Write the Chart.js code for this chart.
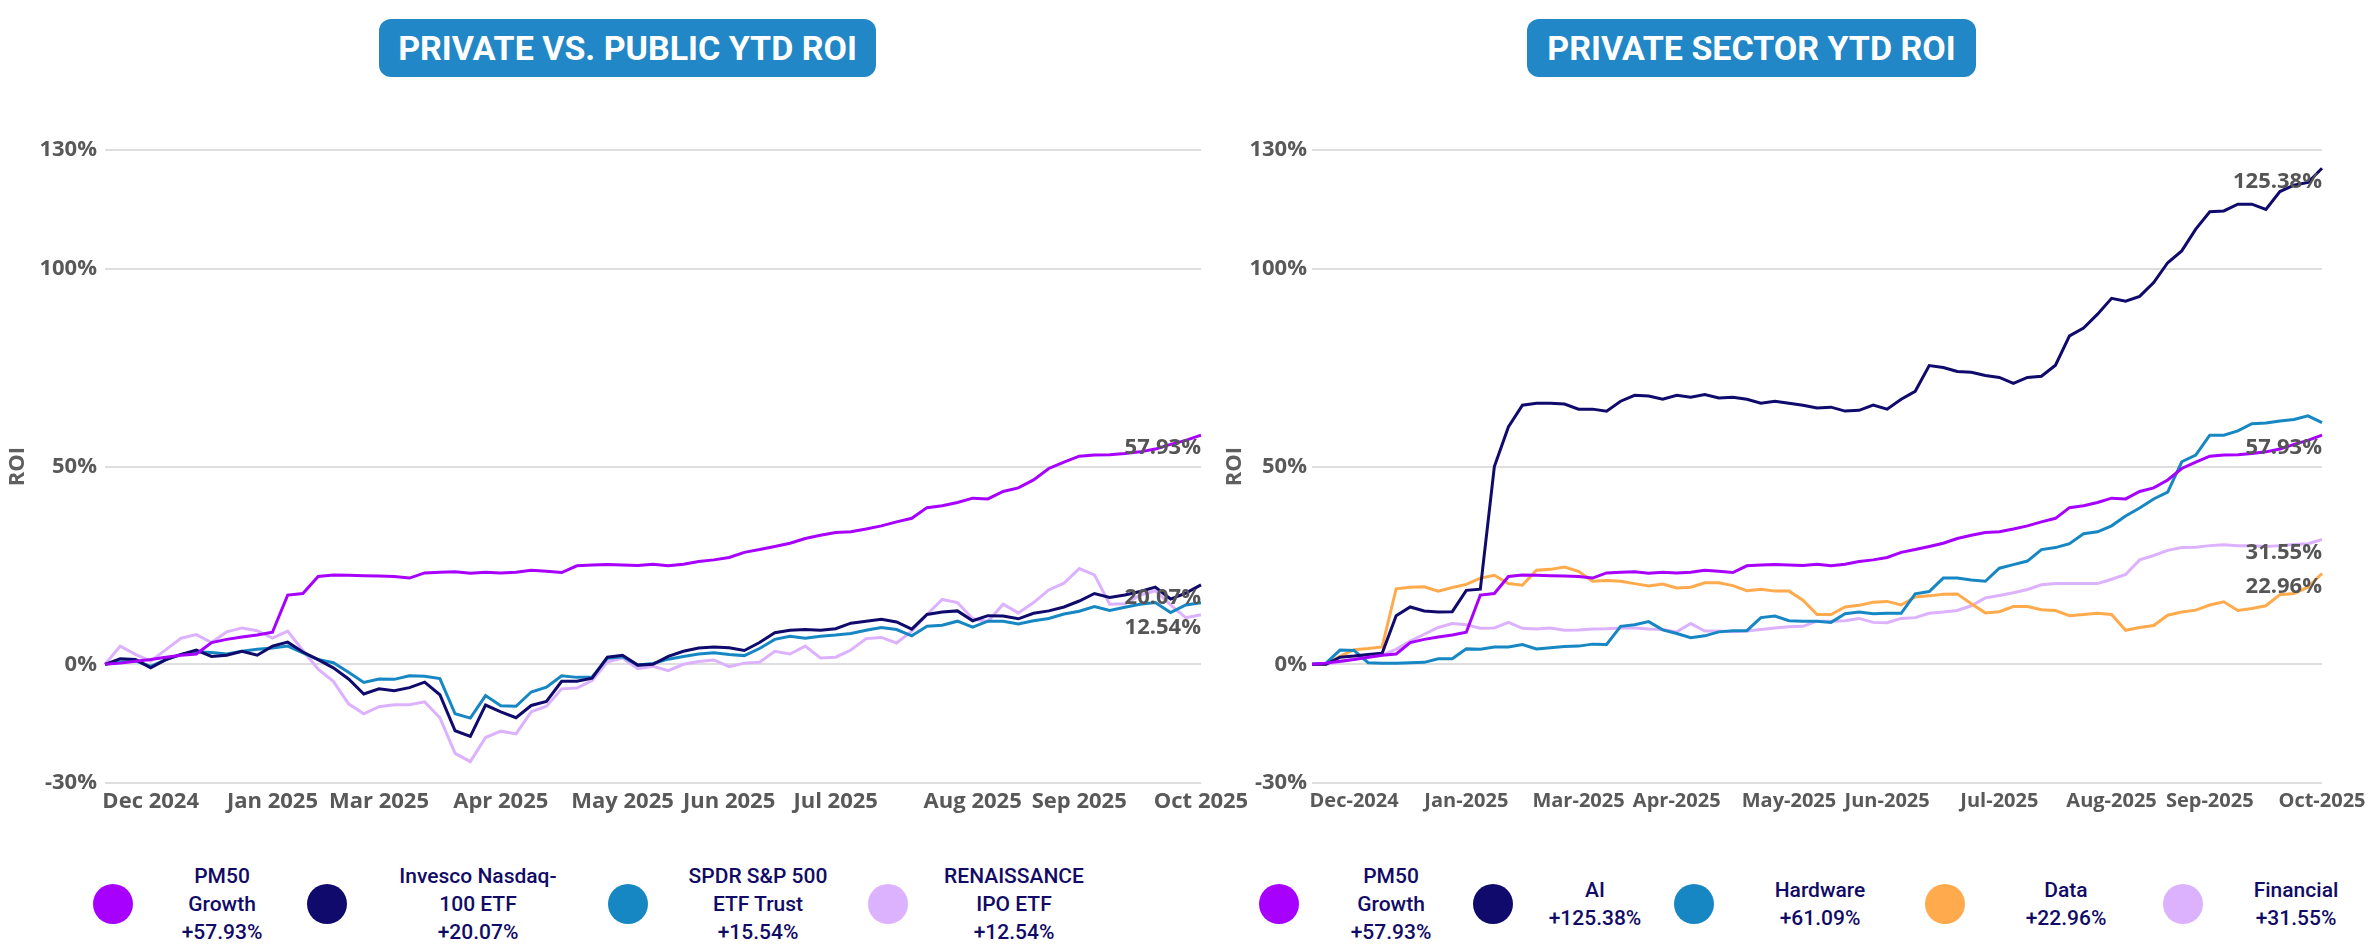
<!DOCTYPE html>
<html>
<head>
<meta charset="utf-8">
<title>YTD ROI</title>
<script src="https://cdn.jsdelivr.net/npm/chart.js@4.4.1/dist/chart.umd.min.js"></script>
<style>
  html, body { margin: 0; padding: 0; background: #fff; }
  body { width: 2375px; height: 950px; position: relative; overflow: hidden; }
  .panel-title {
    position: absolute; top: 19px; height: 58px;
    background: #2287c6; border-radius: 12px; color: #fff;
    font: 700 34px Roboto, sans-serif;
    display: flex; align-items: center; justify-content: center;
  }
  canvas { position: absolute; top: 0; }
  .legend-dot { position: absolute; width: 40px; height: 40px; border-radius: 50%; }
  .legend-text {
    position: absolute; transform: translate(-50%, -50%);
    text-align: center; white-space: pre-line;
    font: 500 21px/28px Roboto, sans-serif; color: #110b66;
  }
</style>
</head>
<body>
<div class="panel-title" style="left:379px;width:497px">PRIVATE VS. PUBLIC YTD ROI</div>
<div class="panel-title" style="left:1527px;width:449px">PRIVATE SECTOR YTD ROI</div>
<canvas id="publicChart" width="1250" height="840" style="left:0"></canvas>
<canvas id="sectorChart" width="1175" height="840" style="left:1200px"></canvas>
<div id="legends"></div>
<script>
// ---- data ----
const yTickValues = [-30, 0, 50, 100, 130];

const publicTickIndex = [3, 11, 18, 26, 34, 41, 48, 57, 64, 72];
const publicTickText = ["Dec 2024", "Jan 2025", "Mar 2025", "Apr 2025", "May 2025",
  "Jun 2025", "Jul 2025", "Aug 2025", "Sep 2025", "Oct 2025"];

const sectorTickIndex = [3, 11, 19, 26, 34, 41, 49, 57, 64, 72];
const sectorTickText = ["Dec-2024", "Jan-2025", "Mar-2025", "Apr-2025", "May-2025",
  "Jun-2025", "Jul-2025", "Aug-2025", "Sep-2025", "Oct-2025"];

const pm50Growth = [0, 0.3, 0.8, 1.2, 1.8, 2.3, 2.6, 5.5, 6.3, 6.9, 7.4, 8.1, 17.5, 17.9, 22.2,
  22.6, 22.5, 22.4, 22.3, 22.2, 21.8, 23.1, 23.3, 23.4, 23.0, 23.3, 23.1, 23.3, 23.8, 23.5,
  23.2, 24.9, 25.1, 25.2, 25.1, 25.0, 25.3, 24.9, 25.3, 26.0, 26.4, 27.0, 28.3, 29.0, 29.8,
  30.6, 31.8, 32.6, 33.3, 33.5, 34.2, 35.0, 36.0, 36.9, 39.6, 40.1, 40.9, 42.0, 41.8, 43.7,
  44.6, 46.6, 49.5, 51.1, 52.6, 52.9, 53.0, 53.3, 53.7, 54.4, 55.6, 56.6, 57.93];

const invescoNasdaq = [0, 1.4, 1.2, -0.9, 1.2, 2.5, 3.6, 2.0, 2.3, 3.3, 2.3, 4.6, 5.6, 3.1, 1.2,
  -0.9, -3.7, -7.5, -6.2, -6.7, -5.9, -4.5, -7.7, -16.8, -18.2, -10.3, -12.0, -13.5, -10.4, -9.4,
  -4.3, -4.3, -3.5, 1.8, 2.3, -0.2, 0.0, 2.0, 3.3, 4.1, 4.4, 4.2, 3.5, 5.5, 8.0,
  8.6, 8.8, 8.6, 9.0, 10.4, 10.9, 11.4, 10.7, 8.9, 12.6, 13.2, 13.5, 11.0, 12.3, 12.2,
  11.5, 12.9, 13.5, 14.5, 16.0, 17.9, 16.9, 17.5, 18.4, 19.5, 16.5, 18.0, 20.07];

const spdrSp500 = [0, 0.5, 0.9, -0.5, 1.2, 2.5, 3.2, 3.0, 2.6, 3.3, 3.8, 4.1, 4.6, 2.9, 1.2,
  0.4, -2.0, -4.6, -3.7, -3.8, -2.9, -3.0, -3.6, -12.5, -13.6, -7.9, -10.5, -10.6, -7.0, -5.8,
  -2.9, -3.3, -3.2, 1.5, 1.9, -0.2, 0.2, 1.3, 2.0, 2.6, 2.9, 2.5, 2.2, 4.0, 6.3,
  7.1, 6.6, 7.1, 7.4, 7.8, 8.6, 9.3, 8.8, 7.2, 9.6, 9.9, 10.9, 9.4, 10.9, 10.9,
  10.2, 11.0, 11.6, 12.7, 13.4, 14.6, 13.6, 14.4, 15.2, 15.6, 13.1, 15.0, 15.54];

const renaissanceIpo = [0, 4.6, 2.5, 0.8, 3.7, 6.6, 7.5, 5.5, 8.2, 9.2, 8.5, 6.6, 8.4, 3.5, -1.2,
  -4.3, -10.0, -12.5, -10.7, -10.2, -10.2, -9.5, -13.5, -22.5, -24.6, -18.5, -16.9, -17.6, -12.0, -10.6,
  -6.2, -6.0, -4.1, 0.6, 1.6, -1.1, -0.5, -1.6, 0.0, 0.7, 1.1, -0.6, 0.3, 0.5, 3.3,
  2.6, 4.6, 1.6, 1.8, 3.6, 6.5, 6.8, 5.4, 8.4, 12.6, 16.4, 15.6, 11.5, 10.8, 15.2,
  13.0, 15.6, 18.8, 20.5, 24.2, 22.6, 15.2, 15.3, 17.5, 18.6, 15.0, 11.8, 12.54];

const aiSector = [0, 0.0, 1.8, 2.1, 2.5, 2.8, 12.3, 14.5, 13.5, 13.2, 13.3, 18.7, 19.0, 50.0, 60.0,
  65.5, 66.0, 66.0, 65.8, 64.5, 64.5, 64.0, 66.5, 68.0, 67.8, 67.0, 68.0, 67.5, 68.2, 67.3,
  67.5, 67.0, 66.0, 66.5, 66.0, 65.5, 64.8, 65.0, 64.0, 64.2, 65.5, 64.5, 67.0, 69.0, 75.5,
  75.0, 74.0, 73.8, 73.0, 72.5, 71.0, 72.5, 72.8, 75.6, 83.0, 85.0, 88.5, 92.5, 91.8, 93.0,
  96.5, 101.5, 104.5, 110.0, 114.4, 114.6, 116.3, 116.3, 115.0, 119.5, 121.1, 121.8, 125.38];

const hardwareSector = [0, 0.3, 3.6, 3.5, 0.4, 0.3, 0.3, 0.4, 0.5, 1.4, 1.4, 3.9, 3.8, 4.4, 4.4,
  5.0, 3.9, 4.2, 4.5, 4.6, 5.1, 5.0, 9.6, 10.0, 10.8, 8.7, 7.8, 6.7, 7.2, 8.2,
  8.5, 8.5, 11.8, 12.2, 11.0, 10.9, 10.9, 10.6, 12.8, 13.2, 12.8, 12.9, 12.9, 17.8, 18.4,
  21.8, 21.8, 21.3, 21.0, 24.3, 25.2, 26.1, 29.0, 29.5, 30.5, 33.0, 33.5, 35.0, 37.5, 39.5,
  41.8, 43.5, 51.2, 52.9, 57.9, 57.9, 59.0, 60.8, 61.0, 61.5, 61.9, 62.8, 61.09];

const dataSector = [0, 0.0, 2.0, 3.7, 4.0, 4.4, 19.1, 19.5, 19.6, 18.5, 19.4, 20.2, 21.8, 22.5, 20.4,
  20.0, 23.8, 24.0, 24.6, 23.5, 21.0, 21.2, 21.0, 20.4, 19.8, 20.3, 19.3, 19.5, 20.6, 20.6,
  19.9, 18.6, 19.0, 18.5, 18.5, 16.2, 12.6, 12.6, 14.5, 14.9, 15.7, 15.9, 15.0, 17.0, 17.3,
  17.7, 17.8, 15.3, 13.0, 13.3, 14.6, 14.6, 13.8, 13.6, 12.3, 12.6, 12.9, 12.6, 8.6, 9.3,
  9.8, 12.4, 13.2, 13.7, 15.0, 15.8, 13.6, 14.1, 14.8, 17.6, 17.9, 19.5, 22.96];

const financialSector = [0, 0.0, 0.6, 1.3, 1.7, 2.3, 3.8, 5.9, 7.6, 9.3, 10.3, 10.0, 9.1, 9.2, 10.6,
  9.1, 8.9, 9.2, 8.6, 8.7, 8.9, 9.0, 9.2, 9.2, 8.9, 8.8, 8.2, 10.3, 8.4, 8.4,
  8.2, 8.4, 8.8, 9.2, 9.5, 9.6, 10.9, 10.9, 11.0, 11.6, 10.6, 10.5, 11.6, 11.8, 12.9,
  13.2, 13.6, 14.8, 16.8, 17.4, 18.1, 18.9, 20.1, 20.4, 20.4, 20.4, 20.4, 21.5, 22.7, 26.4,
  27.5, 28.8, 29.5, 29.6, 30.0, 30.2, 30.0, 30.0, 29.8, 30.0, 30.3, 30.5, 31.55];

const publicNames = ["PM50\nGrowth", "Invesco Nasdaq-\n100 ETF", "SPDR S&P 500\nETF Trust", "RENAISSANCE\nIPO ETF"];
const publicReturns = [57.93, 20.07, 15.54, 12.54];
const publicEndLabelShown = [true, true, false, true];

const sectorNames = ["PM50\nGrowth", "AI", "Hardware", "Data", "Financial"];
const sectorReturns = [57.93, 125.38, 61.09, 22.96, 31.55];
const sectorEndLabelShown = [true, true, false, true, true];

// ---- style ----
const COLORS = {
  pm50: "#a700ff",
  navy: "#100a6c",
  blue: "#1787c3",
  lavender: "#dcb2ff",
  orange: "#ffaa4c",
};
const TICK_COLOR = "#595959";
const GRID_COLOR = "#dedede";

// legend slots (circle centre x, text centre x), y centre shared
const LEGEND_Y = 904;
const publicLegendDotX = [113, 327, 628, 888];
const publicLegendTextX = [222, 478, 758, 1014];
const sectorLegendDotX = [1279, 1493, 1694, 1945, 2183];
const sectorLegendTextX = [1391, 1595, 1820, 2066, 2296];

Chart.defaults.font.family = "'Open Sans', sans-serif";

function buildTickLabels(count, tickIndex, tickText) {
  return Array.from({ length: count }, (_, i) => {
    const k = tickIndex.indexOf(i);
    return k >= 0 ? tickText[k] : "";
  });
}

function formatReturn(value) {
  return `${value.toFixed(2)}%`;
}

const endLabelPlugin = {
  id: "endLabels",
  afterDatasetsDraw(chart) {
    const { ctx } = chart;
    ctx.save();
    ctx.font = "bold 22px 'Open Sans', sans-serif";
    ctx.fillStyle = "#555555";
    ctx.textAlign = "right";
    ctx.textBaseline = "middle";
    chart.data.datasets.forEach((ds, i) => {
      if (!ds.endLabel) return;
      const meta = chart.getDatasetMeta(i);
      const last = meta.data[meta.data.length - 1];
      ctx.fillText(ds.endLabel, last.x, last.y + 13);
    });
    ctx.restore();
  },
};

function createRoiChart(canvas, cfg) {
  const labels = buildTickLabels(cfg.series[0].length, cfg.tickIndex, cfg.tickText);
  return new Chart(canvas, {
    type: "line",
    data: {
      labels,
      datasets: cfg.series.map((values, i) => ({
        label: cfg.names[i].replace("-\n", "-").replace("\n", " "),
        data: values,
        borderColor: cfg.colors[i],
        backgroundColor: cfg.colors[i],
        borderWidth: 3,
        pointRadius: 0,
        tension: 0,
        fill: false,
        endLabel: cfg.endShown[i] ? formatReturn(cfg.returns[i]) : null,
      })),
    },
    plugins: [endLabelPlugin],
    options: {
      responsive: false,
      animation: false,
      layout: { padding: { top: 150, left: 0, right: cfg.padRight, bottom: 17 } },
      plugins: { legend: { display: false }, tooltip: { enabled: false } },
      scales: {
        x: {
          grid: { display: false, drawTicks: false },
          border: { display: false },
          ticks: {
            autoSkip: false, maxRotation: 0, minRotation: 0, padding: 6,
            color: TICK_COLOR, font: { size: cfg.xFontSize, weight: "bold" },
          },
          afterFit(scale) {
            scale.height = 40;
            scale.paddingLeft = 0;
            scale.paddingRight = 0;
          },
        },
        y: {
          min: -30,
          max: 130,
          grid: { color: GRID_COLOR, lineWidth: 2, drawTicks: false },
          border: { display: false },
          afterBuildTicks(scale) {
            scale.ticks = yTickValues.map((value) => ({ value }));
          },
          ticks: {
            padding: cfg.tickPad,
            color: TICK_COLOR,
            font: { size: 22, weight: "bold" },
            callback: (value) => `${value}%`,
          },
          title: {
            display: true, text: "ROI", color: "#5f5f5f",
            font: { size: 22, weight: "bold" },
            padding: { top: cfg.titlePad, bottom: 0 },
          },
          afterFit(scale) {
            scale.width = cfg.axisWidth;
            scale.paddingTop = 0;
            scale.paddingBottom = 0;
          },
        },
      },
    },
  });
}

function addLegend(names, returns, colors, dotX, textX) {
  const host = document.getElementById("legends");
  names.forEach((name, i) => {
    const dot = document.createElement("div");
    dot.className = "legend-dot";
    dot.style.background = colors[i];
    dot.style.left = `${dotX[i] - 20}px`;
    dot.style.top = `${LEGEND_Y - 20}px`;
    host.appendChild(dot);

    const text = document.createElement("div");
    text.className = "legend-text";
    text.textContent = `${name}\n+${returns[i].toFixed(2)}%`;
    text.style.left = `${textX[i]}px`;
    text.style.top = `${LEGEND_Y}px`;
    host.appendChild(text);
  });
}

const publicColors = [COLORS.pm50, COLORS.navy, COLORS.blue, COLORS.lavender];
const sectorColors = [COLORS.pm50, COLORS.navy, COLORS.blue, COLORS.orange, COLORS.lavender];

createRoiChart(document.getElementById("publicChart"), {
  series: [pm50Growth, invescoNasdaq, spdrSp500, renaissanceIpo],
  names: publicNames,
  returns: publicReturns,
  endShown: publicEndLabelShown,
  colors: publicColors,
  tickIndex: publicTickIndex,
  tickText: publicTickText,
  xFontSize: 22,
  axisWidth: 105,
  padRight: 49,
  tickPad: 8,
  titlePad: 5,
});

createRoiChart(document.getElementById("sectorChart"), {
  series: [pm50Growth, aiSector, hardwareSector, dataSector, financialSector],
  names: sectorNames,
  returns: sectorReturns,
  endShown: sectorEndLabelShown,
  colors: sectorColors,
  tickIndex: sectorTickIndex,
  tickText: sectorTickText,
  xFontSize: 20,
  axisWidth: 112,
  padRight: 53,
  tickPad: 5,
  titlePad: 22,
});

addLegend(publicNames, publicReturns, publicColors, publicLegendDotX, publicLegendTextX);
addLegend(sectorNames, sectorReturns, sectorColors, sectorLegendDotX, sectorLegendTextX);
</script>
</body>
</html>
